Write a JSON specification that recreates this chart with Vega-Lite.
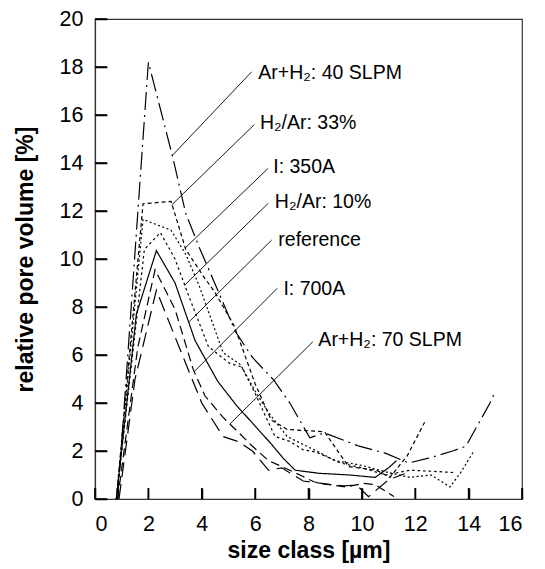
{
  "$schema": "https://vega.github.io/schema/vega-lite/v6.json",
  "autosize": {"type": "none"},
  "width": 427,
  "height": 480,
  "padding": {"left": 95, "top": 19, "right": 23, "bottom": 70},
  "background": "white",
  "config": {
    "view": {"stroke": "#333", "strokeWidth": 1.2},
    "font": "Liberation Sans",
    "axis": {
      "zindex": 1,
      "domainColor": "#333",
      "domainWidth": 1.2,
      "tickColor": "black",
      "tickWidth": 1.5,
      "ticks": true,
      "grid": false,
      "labelFont": "Liberation Sans",
      "labelFontSize": 21.5,
      "labelColor": "black",
      "titleFont": "Liberation Sans",
      "titleFontSize": 23,
      "titleFontWeight": "bold",
      "titleColor": "black"
    }
  },
  "datasets": {
    "curves": [
      {"series": "Ar+H2 40", "x": 0.85, "y": 0},
      {"series": "Ar+H2 40", "x": 2.0, "y": 18.2},
      {"series": "Ar+H2 40", "x": 2.9, "y": 14.3},
      {"series": "Ar+H2 40", "x": 3.4, "y": 11.9},
      {"series": "Ar+H2 40", "x": 3.9, "y": 10.5},
      {"series": "Ar+H2 40", "x": 4.6, "y": 8.7},
      {"series": "Ar+H2 40", "x": 5.25, "y": 7.0},
      {"series": "Ar+H2 40", "x": 5.9, "y": 5.9},
      {"series": "Ar+H2 40", "x": 6.7, "y": 4.95},
      {"series": "Ar+H2 40", "x": 7.3, "y": 4.0},
      {"series": "Ar+H2 40", "x": 8.05, "y": 2.55},
      {"series": "Ar+H2 40", "x": 8.6, "y": 2.75},
      {"series": "Ar+H2 40", "x": 9.9, "y": 2.2},
      {"series": "Ar+H2 40", "x": 10.9, "y": 1.9},
      {"series": "Ar+H2 40", "x": 11.75, "y": 1.5},
      {"series": "Ar+H2 40", "x": 12.5, "y": 1.7},
      {"series": "Ar+H2 40", "x": 13.4, "y": 2.0},
      {"series": "Ar+H2 40", "x": 13.9, "y": 2.2},
      {"series": "Ar+H2 40", "x": 14.8, "y": 4.0},
      {"series": "Ar+H2 40", "x": 15.0, "y": 4.5},

      {"series": "H2/Ar 33", "x": 0.8, "y": 0},
      {"series": "H2/Ar 33", "x": 1.8, "y": 12.3},
      {"series": "H2/Ar 33", "x": 2.85, "y": 12.4},
      {"series": "H2/Ar 33", "x": 3.4, "y": 10.4},
      {"series": "H2/Ar 33", "x": 4.05, "y": 9.3},
      {"series": "H2/Ar 33", "x": 4.5, "y": 8.6},
      {"series": "H2/Ar 33", "x": 5.2, "y": 7.25},
      {"series": "H2/Ar 33", "x": 5.45, "y": 6.5},
      {"series": "H2/Ar 33", "x": 6.0, "y": 4.8},
      {"series": "H2/Ar 33", "x": 6.6, "y": 3.3},
      {"series": "H2/Ar 33", "x": 7.2, "y": 2.9},
      {"series": "H2/Ar 33", "x": 8.6, "y": 2.8},
      {"series": "H2/Ar 33", "x": 9.5, "y": 1.35},
      {"series": "H2/Ar 33", "x": 10.55, "y": 1.2},
      {"series": "H2/Ar 33", "x": 11.05, "y": 0.9},
      {"series": "H2/Ar 33", "x": 11.7, "y": 1.8},
      {"series": "H2/Ar 33", "x": 12.35, "y": 3.2},

      {"series": "I 350", "x": 0.8, "y": 0},
      {"series": "I 350", "x": 1.8, "y": 11.65},
      {"series": "I 350", "x": 2.85, "y": 11.2},
      {"series": "I 350", "x": 3.4, "y": 10.2},
      {"series": "I 350", "x": 3.9, "y": 8.9},
      {"series": "I 350", "x": 4.8, "y": 6.1},
      {"series": "I 350", "x": 5.45, "y": 5.6},
      {"series": "I 350", "x": 6.0, "y": 4.5},
      {"series": "I 350", "x": 6.5, "y": 3.6},
      {"series": "I 350", "x": 7.2, "y": 2.6},
      {"series": "I 350", "x": 8.3, "y": 2.0},
      {"series": "I 350", "x": 9.0, "y": 1.6},
      {"series": "I 350", "x": 10.0, "y": 1.4},
      {"series": "I 350", "x": 11.0, "y": 1.1},
      {"series": "I 350", "x": 11.8, "y": 0.9},
      {"series": "I 350", "x": 12.6, "y": 1.0},
      {"series": "I 350", "x": 13.3, "y": 0.5},
      {"series": "I 350", "x": 13.7, "y": 1.1},
      {"series": "I 350", "x": 14.2, "y": 2.0},

      {"series": "H2/Ar 10", "x": 0.8, "y": 0},
      {"series": "H2/Ar 10", "x": 1.85, "y": 10.4},
      {"series": "H2/Ar 10", "x": 2.45, "y": 11.1},
      {"series": "H2/Ar 10", "x": 3.0, "y": 10.0},
      {"series": "H2/Ar 10", "x": 3.5, "y": 8.5},
      {"series": "H2/Ar 10", "x": 4.25, "y": 6.35},
      {"series": "H2/Ar 10", "x": 4.7, "y": 5.95},
      {"series": "H2/Ar 10", "x": 5.05, "y": 5.65},
      {"series": "H2/Ar 10", "x": 5.5, "y": 5.5},
      {"series": "H2/Ar 10", "x": 6.0, "y": 4.4},
      {"series": "H2/Ar 10", "x": 6.45, "y": 3.3},
      {"series": "H2/Ar 10", "x": 6.75, "y": 2.6},
      {"series": "H2/Ar 10", "x": 7.3, "y": 2.4},
      {"series": "H2/Ar 10", "x": 7.8, "y": 2.05},
      {"series": "H2/Ar 10", "x": 8.3, "y": 1.95},
      {"series": "H2/Ar 10", "x": 9.2, "y": 1.5},
      {"series": "H2/Ar 10", "x": 10.0, "y": 1.3},
      {"series": "H2/Ar 10", "x": 10.9, "y": 1.0},
      {"series": "H2/Ar 10", "x": 11.8, "y": 1.2},
      {"series": "H2/Ar 10", "x": 12.7, "y": 1.15},
      {"series": "H2/Ar 10", "x": 13.5, "y": 1.1},

      {"series": "reference", "x": 0.8, "y": 0},
      {"series": "reference", "x": 1.55, "y": 7.7},
      {"series": "reference", "x": 2.3, "y": 10.35},
      {"series": "reference", "x": 3.0, "y": 9.0},
      {"series": "reference", "x": 3.75, "y": 6.6},
      {"series": "reference", "x": 4.6, "y": 4.9},
      {"series": "reference", "x": 5.3, "y": 3.9},
      {"series": "reference", "x": 5.95, "y": 3.1},
      {"series": "reference", "x": 6.6, "y": 2.3},
      {"series": "reference", "x": 7.05, "y": 1.7},
      {"series": "reference", "x": 7.5, "y": 1.2},
      {"series": "reference", "x": 8.4, "y": 1.07},
      {"series": "reference", "x": 9.55, "y": 1.0},
      {"series": "reference", "x": 10.5, "y": 0.9},
      {"series": "reference", "x": 11.0, "y": 1.3},
      {"series": "reference", "x": 11.3, "y": 1.6},

      {"series": "I 700", "x": 0.85, "y": 0},
      {"series": "I 700", "x": 1.6, "y": 6.3},
      {"series": "I 700", "x": 2.25, "y": 9.55},
      {"series": "I 700", "x": 3.0, "y": 7.9},
      {"series": "I 700", "x": 3.68, "y": 5.4},
      {"series": "I 700", "x": 4.12, "y": 4.3},
      {"series": "I 700", "x": 4.8, "y": 3.4},
      {"series": "I 700", "x": 5.4, "y": 2.75},
      {"series": "I 700", "x": 5.9, "y": 2.2},
      {"series": "I 700", "x": 6.5, "y": 1.6},
      {"series": "I 700", "x": 7.3, "y": 1.2},
      {"series": "I 700", "x": 8.2, "y": 0.72},
      {"series": "I 700", "x": 8.6, "y": 0.62},
      {"series": "I 700", "x": 9.4, "y": 0.5},
      {"series": "I 700", "x": 10.05, "y": 0.65},
      {"series": "I 700", "x": 10.5, "y": 0.6},
      {"series": "I 700", "x": 11.2, "y": 0.1},

      {"series": "Ar+H2 70", "x": 0.9, "y": 0},
      {"series": "Ar+H2 70", "x": 1.5, "y": 5.0},
      {"series": "Ar+H2 70", "x": 2.3, "y": 8.7},
      {"series": "Ar+H2 70", "x": 3.2, "y": 6.2},
      {"series": "Ar+H2 70", "x": 4.0, "y": 4.0},
      {"series": "Ar+H2 70", "x": 4.8, "y": 2.6},
      {"series": "Ar+H2 70", "x": 5.35, "y": 2.4},
      {"series": "Ar+H2 70", "x": 5.9, "y": 2.0},
      {"series": "Ar+H2 70", "x": 6.5, "y": 1.2},
      {"series": "Ar+H2 70", "x": 7.0, "y": 1.3},
      {"series": "Ar+H2 70", "x": 7.8, "y": 0.75},
      {"series": "Ar+H2 70", "x": 8.5, "y": 0.65},
      {"series": "Ar+H2 70", "x": 9.3, "y": 0.55},
      {"series": "Ar+H2 70", "x": 9.8, "y": 0.58},
      {"series": "Ar+H2 70", "x": 10.25, "y": 0.1},
      {"series": "Ar+H2 70", "x": 11.0, "y": 0.8},
      {"series": "Ar+H2 70", "x": 11.6, "y": 1.05}
    ],
    "labels": [
      {"label": "Ar+H₂: 40 SLPM", "x": 6.12, "y": 17.74, "x0": 5.87, "y0": 17.8, "x1": 2.885, "y1": 14.3},
      {"label": "H₂/Ar: 33%", "x": 6.18, "y": 15.65, "x0": 5.97, "y0": 15.6, "x1": 2.87, "y1": 12.25},
      {"label": "I: 350A", "x": 6.68, "y": 13.85, "x0": 6.49, "y0": 13.78, "x1": 3.37, "y1": 10.45},
      {"label": "H₂/Ar: 10%", "x": 6.74, "y": 12.39, "x0": 6.49, "y0": 12.32, "x1": 3.37, "y1": 8.92},
      {"label": "reference", "x": 6.87, "y": 10.79, "x0": 6.62, "y0": 10.79, "x1": 3.53, "y1": 7.39},
      {"label": "I: 700A", "x": 7.06, "y": 8.74, "x0": 6.83, "y0": 8.78, "x1": 3.71, "y1": 5.3},
      {"label": "Ar+H₂: 70 SLPM", "x": 8.37, "y": 6.63, "x0": 8.16, "y0": 6.55, "x1": 5.06, "y1": 3.13}
    ],
    "tickrows": [
      {"a": 0, "b": 2, "a2": 0.45, "b2": 2},
      {"a": 0, "b": 4, "a2": 0.45, "b2": 4},
      {"a": 0, "b": 6, "a2": 0.45, "b2": 6},
      {"a": 0, "b": 8, "a2": 0.45, "b2": 8},
      {"a": 0, "b": 10, "a2": 0.45, "b2": 10},
      {"a": 0, "b": 12, "a2": 0.45, "b2": 12},
      {"a": 0, "b": 14, "a2": 0.45, "b2": 14},
      {"a": 0, "b": 16, "a2": 0.45, "b2": 16},
      {"a": 0, "b": 18, "a2": 0.45, "b2": 18},
      {"a": 0, "b": 20, "a2": 0.45, "b2": 20},
      {"a": 0, "b": 0, "a2": 0.45, "b2": 0},
      {"a": 0, "b": 0, "a2": 0, "b2": 0.46},
      {"a": 2, "b": 0, "a2": 2, "b2": 0.46},
      {"a": 4, "b": 0, "a2": 4, "b2": 0.46},
      {"a": 6, "b": 0, "a2": 6, "b2": 0.46},
      {"a": 8, "b": 0, "a2": 8, "b2": 0.46},
      {"a": 10, "b": 0, "a2": 10, "b2": 0.46},
      {"a": 12, "b": 0, "a2": 12, "b2": 0.46},
      {"a": 14, "b": 0, "a2": 14, "b2": 0.46},
      {"a": 16, "b": 0, "a2": 16, "b2": 0.46}
    ]
  },
  "layer": [
    {
      "data": {"name": "curves"},
      "mark": {"type": "line", "color": "black", "strokeWidth": 1.2},
      "encoding": {
        "x": {
          "field": "x", "type": "quantitative",
          "scale": {"domain": [0, 16], "nice": false},
          "axis": {"title": "size class [µm]", "values": [0, 2, 4, 6, 8, 10, 12, 14, 16], "tickSize": -11, "labelPadding": 25, "titlePadding": 5}
        },
        "y": {
          "field": "y", "type": "quantitative",
          "scale": {"domain": [0, 20], "nice": false},
          "axis": {"title": "relative pore volume [%]", "values": [0, 2, 4, 6, 8, 10, 12, 14, 16, 18, 20], "tickSize": -12, "labelPadding": 24, "titlePadding": 22}
        },
        "detail": {"field": "series", "type": "nominal"},
        "strokeDash": {
          "field": "series", "type": "nominal",
          "scale": {
            "domain": ["Ar+H2 40", "H2/Ar 33", "I 350", "H2/Ar 10", "reference", "I 700", "Ar+H2 70"],
            "range": [[18, 5, 2, 5], [4, 3], [2, 2.5], [2.5, 3], [1, 0], [9, 5], [15, 7]]
          },
          "legend": null
        }
      }
    },
    {
      "data": {"name": "tickrows"},
      "mark": {"type": "rule", "color": "black", "strokeWidth": 1.6, "strokeCap": "butt"},
      "encoding": {
        "x": {"field": "a", "type": "quantitative"},
        "y": {"field": "b", "type": "quantitative"},
        "x2": {"field": "a2"},
        "y2": {"field": "b2"}
      }
    },
    {
      "data": {"name": "labels"},
      "mark": {"type": "rule", "color": "black", "strokeWidth": 0.9},
      "encoding": {
        "x": {"field": "x0", "type": "quantitative"},
        "y": {"field": "y0", "type": "quantitative"},
        "x2": {"field": "x1"},
        "y2": {"field": "y1"}
      }
    },
    {
      "data": {"name": "labels"},
      "mark": {"type": "text", "align": "left", "baseline": "middle", "fontSize": 19.5, "font": "Liberation Sans", "color": "black"},
      "encoding": {
        "x": {"field": "x", "type": "quantitative"},
        "y": {"field": "y", "type": "quantitative"},
        "text": {"field": "label", "type": "nominal"}
      }
    }
  ]
}
